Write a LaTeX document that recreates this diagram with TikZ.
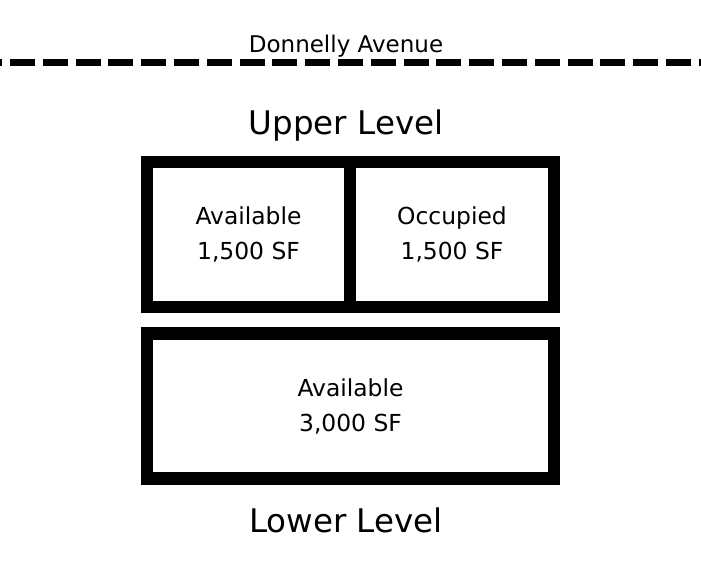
\documentclass[tikz,border=0pt]{standalone}
\usepackage{fontspec}
\setmainfont{DejaVu Sans}
\usetikzlibrary{positioning}

\begin{document}
\begin{tikzpicture}[x=1pt, y=-1pt]
  \tikzstyle{street} = [line width=7pt, dash pattern=on 25pt off 7.8pt, dash phase=22.8pt]
  \tikzstyle{unit} = [draw, line width=12.5pt, inner sep=0pt, minimum height=145pt, align=center, font=\fontsize{23.4}{35}\selectfont]
  \tikzstyle{level} = [anchor=base, font=\fontsize{32.5}{36}\selectfont]
  % Page size and background.
  \useasboundingbox[fill=white] (0,0) rectangle (701,588);
  % Street along the top.
    \coordinate (sw) at (0,62.5);
    \coordinate (se) at (701,62.5);
    \draw[street] (sw) -- (se);
    \node[anchor=base, font=\fontsize{23}{26}\selectfont] (street) at (346,53) {Donnelly Avenue};
  % UPPER LEVEL
    \node[level] (upper) at (346,135) {Upper Level};
    \node[unit, minimum width=203pt] (upavail) at (248.5,234.5) {Available\\1,500 SF};
    \node[unit, minimum width=204pt] (upocc) at (452,234.5) {Occupied\\1,500 SF};
  % LOWER LEVEL
    \node[unit, minimum width=407pt] (lowavail) at (350.5,406) {Available\\3,000 SF};
    \node[level] (lower) at (346,532) {Lower Level};
\end{tikzpicture}
\end{document}
